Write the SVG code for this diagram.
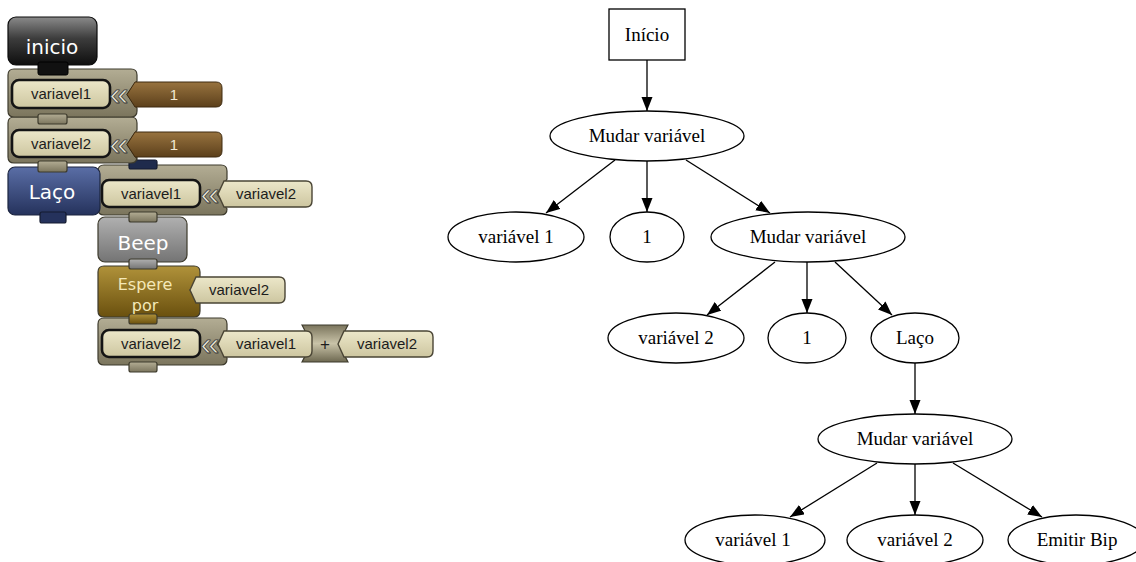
<svg xmlns="http://www.w3.org/2000/svg" width="1136" height="562" viewBox="0 0 1136 562">
<style>
.node ellipse,.node rect{fill:#fff;stroke:#000;stroke-width:1.3}
.node text{font-family:"Liberation Serif","Times New Roman",serif;font-size:19px;fill:#000;text-anchor:middle}
.edges path{fill:none;stroke:#000;stroke-width:1.3;marker-end:url(#arr)}
.blk{stroke:#3d3a2c;stroke-width:1.2}
.slot{fill:url(#gSlot);stroke:#141414;stroke-width:2.6}
.val{fill:url(#gSlot);stroke:#4a4535;stroke-width:1.4}
.st{font-family:"Liberation Sans",Arial,sans-serif;font-size:15px;fill:#1c1c1c;text-anchor:middle}
.bt{font-family:"DejaVu Sans","Open Sans",sans-serif;font-size:20px;fill:#fff;text-anchor:middle}
.ch{font-family:"Liberation Sans",Arial,sans-serif;font-size:34px;fill:#ece8d6;stroke:#3a3a3a;stroke-width:0.8;text-anchor:middle}
</style>
<defs>
<marker id="arr" markerUnits="userSpaceOnUse" markerWidth="15" markerHeight="12" refX="14" refY="5.5" orient="auto"><path d="M0,0 L14,5.5 L0,11 Z" fill="#000"/></marker>
<linearGradient id="gIni" x1="0" y1="0" x2="0" y2="1"><stop offset="0" stop-color="#8a8a8a"/><stop offset="0.45" stop-color="#3c3c3c"/><stop offset="1" stop-color="#0e0e0e"/></linearGradient>
<linearGradient id="gSet" x1="0" y1="0" x2="0" y2="1"><stop offset="0" stop-color="#b3ad94"/><stop offset="1" stop-color="#7b755d"/></linearGradient>
<linearGradient id="gSlot" x1="0" y1="0" x2="0" y2="1"><stop offset="0" stop-color="#ece7c9"/><stop offset="1" stop-color="#cdc6a0"/></linearGradient>
<linearGradient id="gBrown" x1="0" y1="0" x2="0" y2="1"><stop offset="0" stop-color="#98733f"/><stop offset="1" stop-color="#5c401b"/></linearGradient>
<linearGradient id="gLaco" x1="0" y1="0" x2="0" y2="1"><stop offset="0" stop-color="#5a6ea6"/><stop offset="1" stop-color="#25325c"/></linearGradient>
<linearGradient id="gBeep" x1="0" y1="0" x2="0" y2="1"><stop offset="0" stop-color="#b0b0b0"/><stop offset="1" stop-color="#747474"/></linearGradient>
<linearGradient id="gEsp" x1="0" y1="0" x2="0" y2="1"><stop offset="0" stop-color="#b0923a"/><stop offset="1" stop-color="#6a500e"/></linearGradient>
<linearGradient id="gPlus" x1="0" y1="0" x2="0" y2="1"><stop offset="0" stop-color="#7a745c"/><stop offset="0.5" stop-color="#c9c3a8"/><stop offset="1" stop-color="#6d6850"/></linearGradient>
</defs>

<!-- Left: block program (drawn bottom-up so tabs overlap) -->
<g id="blk-set3">
<path class="blk" fill="url(#gSet)" d="M104,318 H221 Q227,318 227,324 V330 L217,344 L227,358 V359 Q227,365 221,365 H104 Q98,365 98,359 V324 Q98,318 104,318 Z"/>
<rect class="blk" fill="url(#gSet)" x="129" y="362" width="28" height="10" rx="2"/>
<rect class="slot" x="102" y="330" width="98" height="27" rx="7"/>
<text class="st" x="151" y="349">variavel2</text>
<text class="ch" x="210" y="355">«</text>
<path class="blk" fill="url(#gPlus)" d="M302,325 H348 Q337,343.5 348,362 H302 Q313,343.5 302,325 Z"/>
<path class="val" d="M218,344 L224,331 H306 Q312,331 312,337 V351 Q312,357 306,357 H224 Z"/>
<text class="st" x="266" y="349">variavel1</text>
<text class="st" x="325" y="350" style="font-size:17px">+</text>
<path class="val" d="M338,344 L344,331 H427 Q433,331 433,337 V351 Q433,357 427,357 H344 Z"/>
<text class="st" x="387" y="349">variavel2</text>
</g>

<g id="blk-espere">
<path class="blk" fill="url(#gEsp)" d="M104,266 H194 Q200,266 200,272 V277 L190,290 L200,303 V311 Q200,317 194,317 H104 Q98,317 98,311 V272 Q98,266 104,266 Z"/>
<rect class="blk" fill="url(#gEsp)" x="129" y="314" width="28" height="10" rx="2"/>
<text class="bt" x="145" y="290" style="font-size:16px;fill:#f4e8b8">Espere</text>
<text class="bt" x="145" y="311" style="font-size:16px;fill:#f4e8b8">por</text>
<path class="val" d="M190,290 L196,277 H279 Q285,277 285,283 V297 Q285,303 279,303 H196 Z"/>
<text class="st" x="239" y="295">variavel2</text>
</g>

<g id="blk-beep">
<rect class="blk" fill="url(#gBeep)" x="98" y="217" width="89" height="45" rx="7"/>
<rect class="blk" fill="url(#gBeep)" x="129" y="259" width="28" height="10" rx="2"/>
<text class="bt" x="143" y="250">Beep</text>
</g>

<g id="blk-set-inner">
<path class="blk" fill="url(#gSet)" d="M104,165 H221 Q227,165 227,171 V179 L217,194 L227,209 V209 Q227,215 221,215 H104 Q98,215 98,209 V171 Q98,165 104,165 Z"/>
<rect class="blk" fill="url(#gSet)" x="129" y="212" width="28" height="10" rx="2"/>
<rect class="slot" x="102" y="180" width="98" height="27" rx="7"/>
<text class="st" x="151" y="199">variavel1</text>
<text class="ch" x="210" y="205">«</text>
<path class="val" d="M218,194 L224,181 H306 Q312,181 312,187 V201 Q312,207 306,207 H224 Z"/>
<text class="st" x="266" y="199">variavel2</text>
</g>

<g id="blk-laco">
<rect fill="url(#gLaco)" stroke="#1c2540" stroke-width="1.2" x="8" y="167" width="92" height="48" rx="7"/>
<rect fill="#25325c" stroke="#141b30" stroke-width="1.2" x="40" y="212" width="26" height="11" rx="2"/>
<rect fill="#1f2b4c" stroke="#141b30" stroke-width="1.2" x="129" y="160" width="28" height="9" rx="2"/>
<text class="bt" x="52" y="199">Laço</text>
</g>

<g id="blk-set2">
<path class="blk" fill="url(#gSet)" d="M14,117 H131 Q137,117 137,123 V130 L127,144.5 L137,159 V157 Q137,163 131,163 H14 Q8,163 8,157 V123 Q8,117 14,117 Z"/>
<rect class="blk" fill="url(#gSet)" x="38" y="161" width="29" height="11" rx="2"/>
<rect class="slot" x="12" y="130" width="98" height="27" rx="7"/>
<text class="st" x="61" y="149">variavel2</text>
<text class="ch" x="119" y="155">«</text>
<path fill="url(#gBrown)" stroke="#3e2a10" stroke-width="1" d="M127,144.5 L135,132 H216 Q222,132 222,138 V151 Q222,157 216,157 H135 Z"/>
<text class="st" x="174" y="150" style="fill:#f3e8d2">1</text>
</g>

<g id="blk-set1">
<path class="blk" fill="url(#gSet)" d="M14,69 H131 Q137,69 137,75 V81 L127,94.5 L137,108 V111 Q137,117 131,117 H14 Q8,117 8,111 V75 Q8,69 14,69 Z"/>
<rect class="blk" fill="url(#gSet)" x="38" y="114" width="29" height="10" rx="2"/>
<rect class="slot" x="12" y="80" width="98" height="28" rx="7"/>
<text class="st" x="61" y="99">variavel1</text>
<text class="ch" x="119" y="105">«</text>
<path fill="url(#gBrown)" stroke="#3e2a10" stroke-width="1" d="M127,94.5 L135,82 H216 Q222,82 222,88 V101 Q222,107 216,107 H135 Z"/>
<text class="st" x="174" y="100" style="fill:#f3e8d2">1</text>
</g>

<g id="blk-inicio">
<rect fill="url(#gIni)" stroke="#0a0a0a" stroke-width="1.2" x="8" y="17" width="89" height="48" rx="8"/>
<rect fill="#111" stroke="#000" stroke-width="1" x="38" y="62" width="30" height="13" rx="2"/>
<text class="bt" x="52" y="54">inicio</text>
</g>

<!-- Right: tree -->
<g class="edges" id="connectors">
<path d="M647,60 V111"/>
<path d="M615,160 L546,213"/>
<path d="M647,161 V212"/>
<path d="M686,160 L770,213"/>
<path d="M775,262 L707,315"/>
<path d="M807,262 V313"/>
<path d="M835,262 L892,315"/>
<path d="M915,363 V414"/>
<path d="M877,463 L790,517"/>
<path d="M915,464 V515"/>
<path d="M953,463 L1042,517"/>
</g>

<g class="node" id="n-inicio"><rect x="609" y="9" width="76" height="51"/><text x="647" y="41">Início</text></g>
<g class="node" id="n-mv1"><ellipse cx="647" cy="136" rx="97" ry="25"/><text x="647" y="142">Mudar variável</text></g>
<g class="node" id="n-v1a"><ellipse cx="516" cy="237" rx="68" ry="25"/><text x="516" y="243">variável 1</text></g>
<g class="node" id="n-one1"><ellipse cx="647" cy="237" rx="37" ry="25"/><text x="647" y="243">1</text></g>
<g class="node" id="n-mv2"><ellipse cx="808" cy="237" rx="97" ry="25"/><text x="808" y="243">Mudar variável</text></g>
<g class="node" id="n-v2a"><ellipse cx="676" cy="338" rx="68" ry="25"/><text x="676" y="344">variável 2</text></g>
<g class="node" id="n-one2"><ellipse cx="807" cy="338" rx="39" ry="25"/><text x="807" y="344">1</text></g>
<g class="node" id="n-laco"><ellipse cx="915" cy="338" rx="44" ry="25"/><text x="915" y="344">Laço</text></g>
<g class="node" id="n-mv3"><ellipse cx="915" cy="439" rx="97" ry="25"/><text x="915" y="445">Mudar variável</text></g>
<g class="node" id="n-v1b"><ellipse cx="755" cy="540" rx="70" ry="25"/><text x="753" y="546">variável 1</text></g>
<g class="node" id="n-v2b"><ellipse cx="915" cy="540" rx="68" ry="25"/><text x="915" y="546">variável 2</text></g>
<g class="node" id="n-bip"><ellipse cx="1076" cy="540" rx="68" ry="25"/><text x="1077" y="546">Emitir Bip</text></g>
</svg>
